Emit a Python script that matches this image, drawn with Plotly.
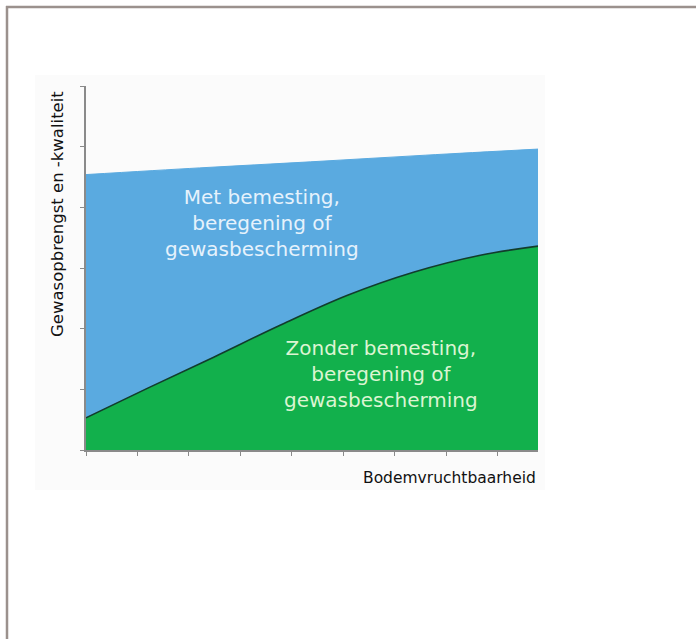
import plotly.graph_objects as go

# Data (x in tick units, y in tick units)
met_x = [0, 2.2, 4.36, 6.6, 8.78]
met_y = [4.54, 4.65, 4.75, 4.86, 4.96]

zonder_x = [0, 1.2, 2.48, 3.78, 5.08, 6.36, 7.66, 8.78]
zonder_y = [0.53, 1.02, 1.53, 2.06, 2.55, 2.93, 3.21, 3.36]

x_ticks = [0, 1, 2, 3, 4, 5, 6, 7, 8]
y_ticks = [0, 1, 2, 3, 4, 5, 6]

label_met = "Met bemesting,<br>beregening of<br>gewasbescherming"
label_zonder = "Zonder bemesting,<br>beregening of<br>gewasbescherming"
x_title = "Bodemvruchtbaarheid"
y_title = "Gewasopbrengst en -kwaliteit"

W, H = 696, 639
L, R, T, B = 86, 538, 86, 450  # plot area in pixels

def px_to_paper_x(px):
    return (px - L) / (R - L)

def px_to_paper_y(py):
    return (B - py) / (B - T)

fig = go.Figure()
fig.add_trace(go.Scatter(x=met_x, y=met_y, mode="lines", fill="tozeroy",
                         line=dict(color="#5aaae0", width=1, shape="spline"),
                         fillcolor="#5aaae0", hoverinfo="skip"))
fig.add_trace(go.Scatter(x=zonder_x, y=zonder_y, mode="lines", fill="tozeroy",
                         line=dict(color="#123d2c", width=1.6, shape="spline"),
                         fillcolor="#12b04c", hoverinfo="skip"))

axis_common = dict(showgrid=False, zeroline=False, showticklabels=False,
                   ticks="outside", ticklen=4, tickwidth=1.2, tickcolor="#8a8a8a",
                   showline=True, linecolor="#8a8a8a", linewidth=1.5)

fig.update_layout(
    width=W, height=H,
    margin=dict(l=L, r=W - R, t=T, b=H - B),
    paper_bgcolor="white", plot_bgcolor="rgba(0,0,0,0)",
    showlegend=False,
    xaxis=dict(range=[0, 8.78], tickvals=x_ticks, **axis_common),
    yaxis=dict(range=[0, 6], tickvals=y_ticks, **axis_common),
    font=dict(family="DejaVu Sans"),
)

# faint background panel and image border
fig.add_shape(type="rect", xref="paper", yref="paper", layer="below",
              x0=px_to_paper_x(35), x1=px_to_paper_x(545),
              y0=px_to_paper_y(490), y1=px_to_paper_y(75),
              fillcolor="#fbfbfb", line=dict(width=0))
fig.add_shape(type="line", xref="paper", yref="paper",
              x0=px_to_paper_x(6), x1=px_to_paper_x(700),
              y0=px_to_paper_y(7), y1=px_to_paper_y(7),
              line=dict(color="#9b918d", width=2.5))
fig.add_shape(type="line", xref="paper", yref="paper",
              x0=px_to_paper_x(7), x1=px_to_paper_x(7),
              y0=px_to_paper_y(6), y1=px_to_paper_y(645),
              line=dict(color="#9b918d", width=2.5))

fig.add_annotation(text=label_met, xref="paper", yref="paper",
                   x=px_to_paper_x(262), y=px_to_paper_y(223),
                   xanchor="center", yanchor="middle",
                   showarrow=False, align="center",
                   font=dict(family="DejaVu Sans", size=20, color="#e6f2fc"))
fig.add_annotation(text=label_zonder, xref="paper", yref="paper",
                   x=px_to_paper_x(381), y=px_to_paper_y(374),
                   xanchor="center", yanchor="middle",
                   showarrow=False, align="center",
                   font=dict(family="DejaVu Sans", size=20, color="#dcf5d2"))
fig.add_annotation(text=x_title, xref="paper", yref="paper",
                   x=1.0, y=px_to_paper_y(478), xanchor="right", yanchor="middle",
                   showarrow=False,
                   font=dict(family="DejaVu Sans", size=15.5, color="#111111"))
fig.add_annotation(text=y_title, xref="paper", yref="paper",
                   x=px_to_paper_x(57), y=px_to_paper_y(214), textangle=-90,
                   xanchor="center", yanchor="middle",
                   showarrow=False,
                   font=dict(family="DejaVu Sans", size=16.5, color="#111111"))

fig.write_html("out.html", config={"displayModeBar": False},
               post_script="document.body.style.margin='0';document.body.style.overflow='hidden';")
